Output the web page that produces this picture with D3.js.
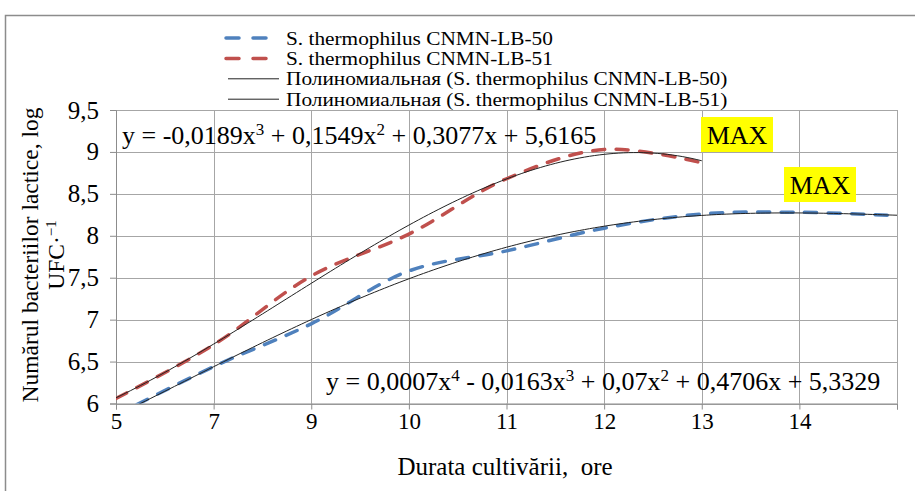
<!DOCTYPE html>
<html><head><meta charset="utf-8">
<script src="https://cdn.jsdelivr.net/npm/d3@7"></script>
<style>
body{margin:0;background:#fff;overflow:hidden;}
text{font-family:"Liberation Serif","Times New Roman",serif;fill:#000;white-space:pre;}
</style></head><body>
<svg id="chart" width="915" height="491"></svg>
<script>
// Category labels (hours of cultivation); the last point has no label
const categories = ["5", "7", "9", "10", "11", "12", "13", "14", ""];
// Lactic bacteria count, log CFU, per strain
const lb50 = [5.86, 6.44, 6.95, 7.58, 7.82, 8.09, 8.26, 8.28, 8.24];
const lb51 = [6.06, 6.70, 7.52, 8.02, 8.68, 9.03, 8.87];
const seriesNames = ["S. thermophilus CNMN-LB-50", "S. thermophilus CNMN-LB-51"];
const trendNames = ["Полиномиальная (S. thermophilus CNMN-LB-50)", "Полиномиальная (S. thermophilus CNMN-LB-51)"];
const seriesColors = ["#4F81BD", "#C0504D"];
const trendDegrees = [4, 3];
const yTicks = [6, 6.5, 7, 7.5, 8, 8.5, 9, 9.5];
const equations = [
  "y = 0,0007x^4 - 0,0163x^3 + 0,07x^2 + 0,4706x + 5,3329",
  "y = -0,0189x^3 + 0,1549x^2 + 0,3077x + 5,6165"
];
const maxLabel = "MAX";

const svg = d3.select("#chart");
const plot = {left: 116, right: 897, top: 110, bottom: 403.5};

// chart area border
svg.append("rect").attr("x", 5.5).attr("y", 15.5).attr("width", 1000).attr("height", 1000)
  .attr("fill", "#fff").attr("stroke", "#8c8c8c").attr("stroke-width", 1.5);

const x = d3.scaleLinear().domain([1, categories.length]).range([plot.left, plot.right]);
const y = d3.scaleLinear().domain([6, 9.5]).range([plot.bottom, plot.top]);
const fmt = v => String(v).replace(".", ",");

// gridlines
const grid = svg.append("g").attr("stroke", "#a6a6a6").attr("stroke-width", 1);
grid.selectAll("line.h").data(yTicks).join("line")
  .attr("x1", plot.left).attr("x2", plot.right)
  .attr("y1", d => Math.round(y(d)) + 0.5).attr("y2", d => Math.round(y(d)) + 0.5);
grid.selectAll("line.v").data(d3.range(1, categories.length + 1)).join("line")
  .attr("y1", plot.top).attr("y2", plot.bottom)
  .attr("x1", d => Math.round(x(d)) + 0.5).attr("x2", d => Math.round(x(d)) + 0.5);

// axes
const xAxis = svg.append("g").attr("transform", `translate(0,${plot.bottom})`)
  .call(d3.axisBottom(x).tickValues(d3.range(1, categories.length + 1))
    .tickFormat(i => categories[i - 1]).tickSize(6).tickPadding(3));
const yAxis = svg.append("g").attr("transform", `translate(${plot.left},0)`)
  .call(d3.axisLeft(y).tickValues(yTicks).tickFormat(fmt).tickSize(6).tickPadding(11));
[xAxis, yAxis].forEach(a => {
  a.select(".domain").attr("stroke", "#8c8c8c");
  a.selectAll(".tick line").attr("stroke", "#8c8c8c");
  a.selectAll("text").style("font-family", '"Liberation Serif", serif').attr("fill", "#000");
});
xAxis.selectAll("text").style("font-size", "23px");
yAxis.selectAll("text").style("font-size", "25px");

// clip to plot area
svg.append("clipPath").attr("id", "plotClip").append("rect")
  .attr("x", plot.left).attr("y", plot.top - 2).attr("width", plot.right - plot.left + 2).attr("height", plot.bottom - plot.top + 2);

// least squares polynomial fit on category index
function polyfit(ys, deg) {
  const n = deg + 1;
  const A = Array.from({length: n}, () => new Array(n + 1).fill(0));
  ys.forEach((v, k) => {
    const xi = k + 1;
    for (let r = 0; r < n; r++) {
      for (let c = 0; c < n; c++) A[r][c] += Math.pow(xi, r + c);
      A[r][n] += v * Math.pow(xi, r);
    }
  });
  for (let i = 0; i < n; i++) {
    let p = i;
    for (let r = i + 1; r < n; r++) if (Math.abs(A[r][i]) > Math.abs(A[p][i])) p = r;
    [A[i], A[p]] = [A[p], A[i]];
    for (let r = 0; r < n; r++) {
      if (r === i) continue;
      const f = A[r][i] / A[i][i];
      for (let c = i; c <= n; c++) A[r][c] -= f * A[i][c];
    }
  }
  return A.map((row, i) => row[n] / row[i]);
}

const g = svg.append("g").attr("clip-path", "url(#plotClip)");
const line = d3.line().x((d, i) => x(i + 1)).y(d => y(d)).curve(d3.curveCatmullRom.alpha(0.5));

[lb50, lb51].forEach((vals, s) => {
  g.append("path").attr("d", line(vals)).attr("fill", "none")
    .attr("stroke", seriesColors[s]).attr("stroke-width", 3.5)
    .attr("stroke-dasharray", "12,11.5").attr("stroke-linecap", "round");
});
[lb50, lb51].forEach((vals, s) => {
  const coef = polyfit(vals, trendDegrees[s]);
  const pts = d3.range(1, vals.length + 0.0001, 0.05).map(t => [t, coef.reduce((a, c, k) => a + c * Math.pow(t, k), 0)]);
  g.append("path").attr("d", d3.line().x(d => x(d[0])).y(d => y(d[1]))(pts))
    .attr("fill", "none").attr("stroke", "#222").attr("stroke-width", 1);
});

// equation text with superscripts
function equation(str, px, py) {
  const t = svg.append("text").attr("x", px).attr("y", py).style("font-size", "26px");
  str.split(/\^(\d)/).forEach((part, i) => {
    if (i % 2 === 0) t.append("tspan").text(part).attr("dy", i === 0 ? 0 : 9);
    else t.append("tspan").text(part).attr("dy", -9).style("font-size", "17px");
  });
}
equation(equations[1], 122, 144);
equation(equations[0], 326, 390);

// MAX labels on yellow boxes
[[701, 117], [784, 167]].forEach(([bx, by]) => {
  svg.append("rect").attr("x", bx).attr("y", by).attr("width", 72).attr("height", 35).attr("fill", "#ffff00");
  svg.append("text").attr("x", bx + 36).attr("y", by + 27).attr("text-anchor", "middle")
    .style("font-size", "26px").text(maxLabel);
});

// legend: compact rows, glyphs widened to the legend's column width
const legend = svg.append("g");
[0, 1, 2, 3].forEach(r => {
  const cy = 38 + r * 20.4;
  if (r < 2) {
    legend.append("line").attr("x1", 226).attr("x2", 270).attr("y1", cy).attr("y2", cy)
      .attr("stroke", seriesColors[r]).attr("stroke-width", 3.5).attr("stroke-dasharray", "13,14").attr("stroke-linecap", "round");
  } else {
    legend.append("line").attr("x1", 228).attr("x2", 279).attr("y1", cy).attr("y2", cy)
      .attr("stroke", "#222").attr("stroke-width", 1);
  }
  const t = legend.append("text").attr("x", 286).attr("y", cy + 6.5).style("font-size", "18px")
    .text(r < 2 ? seriesNames[r] : trendNames[r - 2]);
  const w = t.node().getComputedTextLength();
  t.attr("textLength", w * 21.3 / 18).attr("lengthAdjust", "spacingAndGlyphs");
});

// axis titles
svg.append("text").attr("x", 505).attr("y", 475).attr("text-anchor", "middle").style("font-size", "25px")
  .text("Durata cultivării,  ore");
const yt = svg.append("text").attr("transform", "translate(38,255) rotate(-90)").attr("text-anchor", "middle").style("font-size", "23.5px");
yt.append("tspan").attr("x", 0).attr("dy", 0).text("Numărul bacteriilor lactice, log");
yt.append("tspan").attr("x", 0).attr("dy", 26).text("UFC·");
yt.append("tspan").attr("dy", -8).style("font-size", "15px").text("−1");
</script>
</body></html>
